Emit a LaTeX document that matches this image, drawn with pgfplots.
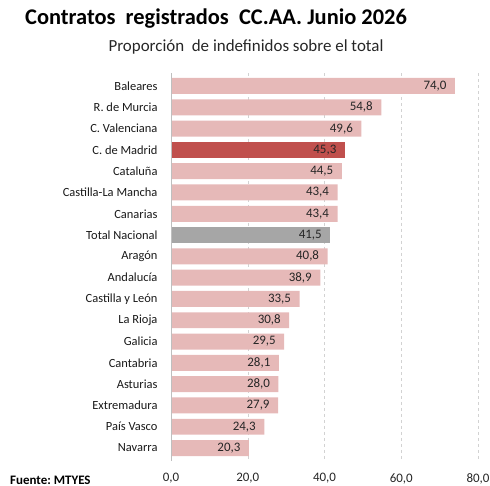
\documentclass[border=0pt]{standalone}
\usepackage{fontspec}
\setmainfont{Carlito}
\usepackage{pgfplots}
\pgfplotsset{compat=1.18}
\definecolor{pinkbar}{HTML}{E6B9B8}
\definecolor{redbar}{HTML}{C0504D}
\definecolor{graybar}{HTML}{A6A6A6}
\begin{document}
\begin{tikzpicture}[x=1bp,y=1bp]
\path[use as bounding box] (0,0) rectangle (490,-486);
\node[font=\fontsize{22.5}{24}\selectfont\bfseries, anchor=center] at (216,-19) {Contratos\ \ registrados\ \ CC.AA. Junio 2026};
\node[font=\fontsize{17}{19}\selectfont, anchor=center, text=black!85] at (246,-47) {Proporción\ \ de indefinidos sobre el total};
\node[font=\fontsize{13}{14}\selectfont\bfseries, anchor=west, inner sep=0pt] at (10,-480) {Fuente:\ MTYES};
\begin{axis}[
  at={(171bp,-73.2bp)}, anchor=north west,
  scale only axis, width=307bp, height=387.6bp,
  xbar, bar shift=0pt, bar width=0.75,
  xmin=0, xmax=80, ymin=-0.6, ymax=17.6, y dir=reverse,
  xtick={0,20,40,60,80},
  ytick={0,...,17},
  yticklabels={Baleares,R. de Murcia,C. Valenciana,C. de Madrid,Cataluña,Castilla-La Mancha,Canarias,Total Nacional,Aragón,Andalucía,Castilla y León,La Rioja,Galicia,Cantabria,Asturias,Extremadura,País Vasco,Navarra},
  axis line style={draw=none},
  major tick length=0pt,
  xmajorgrids, grid style={dashed, gray!35},
  x tick label style={font=\fontsize{13}{14}\selectfont, text=black!85, yshift=-9bp, /pgf/number format/.cd, fixed, fixed zerofill, precision=1, use comma, assume math mode=true},
  y tick label style={font=\fontsize{12.5}{14}\selectfont, text=black!90, xshift=-10bp},
  nodes near coords,
  nodes near coords style={font=\fontsize{13}{14}\selectfont, text=black!85, anchor=east, xshift=-5bp, /pgf/number format/.cd, fixed, fixed zerofill, precision=1, use comma, assume math mode=true},
  clip=false,
]
\addplot[fill=pinkbar, draw=none] coordinates {
(74.0,0) (54.8,1) (49.6,2) (44.5,4) (43.4,5) (43.4,6) (40.8,8) (38.9,9) (33.5,10) (30.8,11) (29.5,12) (28.1,13) (28.0,14) (27.9,15) (24.3,16) (20.3,17)};
\addplot[fill=redbar, draw=none] coordinates {(45.3,3)};
\addplot[fill=graybar, draw=none] coordinates {(41.5,7)};
\draw[gray!50] (axis cs:0,-0.6) -- (axis cs:0,17.6);
\end{axis}
\end{tikzpicture}
\end{document}
